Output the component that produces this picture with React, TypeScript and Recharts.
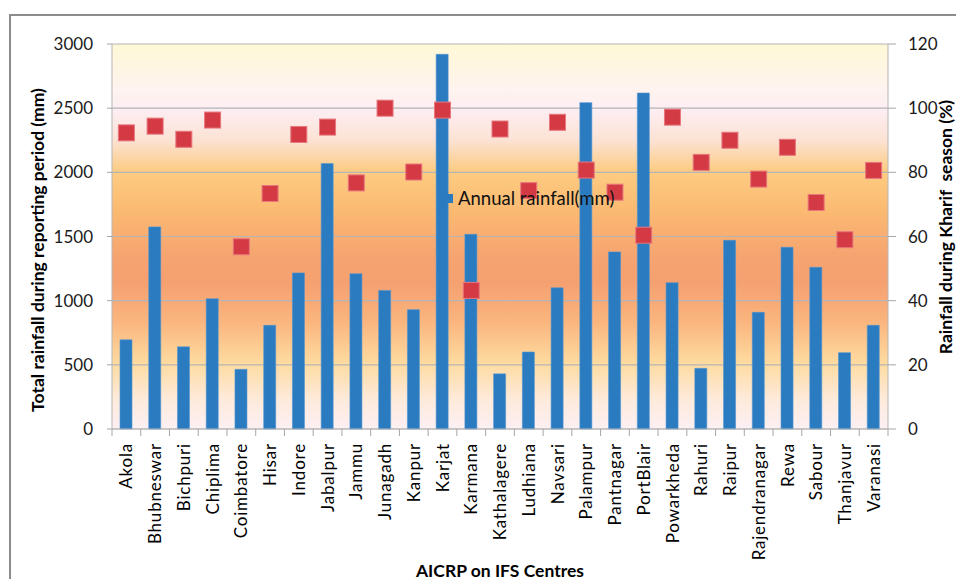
import {
  ComposedChart,
  Bar,
  Scatter,
  XAxis,
  YAxis,
  CartesianGrid,
} from 'recharts';

const CENTRES = [
  'Akola', 'Bhubneswar', 'Bichpuri', 'Chiplima', 'Coimbatore', 'Hisar', 'Indore',
  'Jabalpur', 'Jammu', 'Junagadh', 'Kanpur', 'Karjat', 'Karmana', 'Kathalagere',
  'Ludhiana', 'Navsari', 'Palampur', 'Pantnagar', 'PortBlair', 'Powarkheda',
  'Rahuri', 'Raipur', 'Rajendranagar', 'Rewa', 'Sabour', 'Thanjavur', 'Varanasi',
];

// annual rainfall, mm (left axis)
const ANNUAL_RAINFALL = [
  695, 1575, 640, 1015, 465, 808, 1216, 2068, 1210, 1080, 930, 2920, 1517, 430,
  600, 1100, 2543, 1380, 2618, 1140, 473, 1470, 909, 1416, 1260, 595, 808,
];

// share of rainfall in kharif season, % (right axis)
const KHARIF_SHARE = [
  92.3, 94.4, 90.3, 96.3, 56.8, 73.4, 91.8, 94.1, 76.7, 100, 80.1, 99.4, 43.2, 93.5,
  74.3, 95.6, 80.7, 73.8, 60.4, 97.2, 83.1, 90, 77.9, 87.8, 70.6, 59, 80.6,
];

const LEFT_TICKS = [0, 500, 1000, 1500, 2000, 2500, 3000];
const RIGHT_TICKS = [0, 20, 40, 60, 80, 100, 120];

const data = CENTRES.map((name, i) => ({
  name,
  annual: ANNUAL_RAINFALL[i],
  kharif: KHARIF_SHARE[i],
}));

const FONT = 'Lato, "Liberation Sans", sans-serif';
const W = 956;
const H = 579;
const PLOT_LEFT = 112;
const PLOT_RIGHT = 888;
const BAND = (PLOT_RIGHT - PLOT_LEFT) / CENTRES.length;

const CentreTick = (props: any) => {
  const { x, y, payload, index } = props;
  const axisY = y - 14;
  return (
    <g>
      <line x1={x - BAND / 2} x2={x - BAND / 2} y1={axisY} y2={axisY + 7} stroke="#A6A6A6" />
      {index === CENTRES.length - 1 && (
        <line x1={x + BAND / 2} x2={x + BAND / 2} y1={axisY} y2={axisY + 7} stroke="#A6A6A6" />
      )}
      <text
        x={x}
        y={y}
        dy="0.36em"
        textAnchor="end"
        transform={`rotate(-90, ${x}, ${y})`}
        fill="#000"
        fontSize={17}
        letterSpacing={0.8}
        fontFamily={FONT}
      >
        {payload.value}
      </text>
    </g>
  );
};

const Square = (p: any) => (
  <rect
    x={p.cx - 8}
    y={p.cy - 8}
    width={16}
    height={16}
    fill="#D33A44"
    stroke="#E8777E"
    strokeWidth={1}
  />
);

const titleStyle = {
  position: 'absolute' as const,
  whiteSpace: 'pre' as const,
  fontWeight: 'bold',
  fontSize: 17.5,
};

export default function App() {
  return (
    <div
      style={{
        position: 'absolute',
        left: 0,
        top: 0,
        width: W,
        height: H,
        overflow: 'hidden',
        background: '#fff',
        fontFamily: FONT,
      }}
    >
      <div
        style={{
          position: 'absolute',
          left: 9,
          top: 14,
          width: W,
          height: H,
          borderLeft: '2px solid #8C8C8C',
          borderTop: '2px solid #8C8C8C',
        }}
      />
      <ComposedChart
        width={W}
        height={H}
        data={data}
        margin={{ top: 44, right: 0, bottom: 0, left: 0 }}
        barCategoryGap={0}
      >
        <defs>
          <linearGradient id="plotBg" x1="0" y1="0" x2="0" y2="1">
            <stop offset="0" stopColor="#FFF8D6" />
            <stop offset="0.12" stopColor="#FEF3EF" />
            <stop offset="0.17" stopColor="#FDEEF3" />
            <stop offset="0.25" stopColor="#FCE2D4" />
            <stop offset="0.33" stopColor="#FDCC82" />
            <stop offset="0.43" stopColor="#FBBA72" />
            <stop offset="0.55" stopColor="#F6A470" />
            <stop offset="0.62" stopColor="#F5A070" />
            <stop offset="0.72" stopColor="#FAB57E" />
            <stop offset="0.83" stopColor="#FEDBA0" />
            <stop offset="0.92" stopColor="#FEEADA" />
            <stop offset="1" stopColor="#FCF0F4" />
          </linearGradient>
        </defs>
        <CartesianGrid
          yAxisId="left"
          vertical={false}
          stroke="#B5B5B5"
          strokeWidth={1.2}
          fill="url(#plotBg)"
          fillOpacity={1}
        />
        <XAxis
          dataKey="name"
          interval={0}
          height={150}
          tickLine={false}
          tickSize={7}
          tickMargin={7}
          axisLine={{ stroke: '#B5B5B5' }}
          tick={<CentreTick />}
        />
        <YAxis
          yAxisId="left"
          width={112}
          domain={[0, 3000]}
          ticks={LEFT_TICKS}
          interval={0}
          tickSize={5}
          tickMargin={14}
          tickLine={{ stroke: '#A6A6A6' }}
          axisLine={{ stroke: '#B5B5B5' }}
          tick={{ fill: '#1a1a1a', fontSize: 17, fontFamily: FONT }}
        />
        <YAxis
          yAxisId="right"
          orientation="right"
          width={68}
          domain={[0, 120]}
          ticks={RIGHT_TICKS}
          interval={0}
          tickSize={8}
          tickMargin={12}
          tickLine={{ stroke: '#A6A6A6' }}
          axisLine={{ stroke: '#B5B5B5' }}
          tick={{ fill: '#1a1a1a', fontSize: 17, fontFamily: FONT }}
        />
        <Bar
          yAxisId="left"
          dataKey="annual"
          name="Annual rainfall(mm)"
          barSize={12}
          fill="#2B7BC1"
          stroke="#4F93D2"
          strokeWidth={0.6}
          isAnimationActive={false}
        />
        <Scatter
          yAxisId="right"
          dataKey="kharif"
          shape={<Square />}
          legendType="none"
          isAnimationActive={false}
        />
      </ComposedChart>
      {/* legend: only the bar series is listed */}
      <div
        style={{
          position: 'absolute',
          left: 446,
          top: 187,
          display: 'flex',
          alignItems: 'center',
          fontSize: 18.5,
          color: '#111',
        }}
      >
        <span style={{ display: 'inline-block', width: 7, height: 9, background: '#2B7BC1', marginRight: 5 }} />
        <span>Annual rainfall(mm)</span>
      </div>
      <div style={{ ...titleStyle, left: 37, top: 250, transform: 'translate(-50%, -50%) rotate(-90deg)' }}>
        Total rainfall during reporting period (mm)
      </div>
      <div style={{ ...titleStyle, left: 945, top: 227, transform: 'translate(-50%, -50%) rotate(-90deg)' }}>
        Rainfall during Kharif  season (%)
      </div>
      <div style={{ ...titleStyle, left: 500, top: 570, transform: 'translate(-50%, -50%)' }}>
        AICRP on IFS Centres
      </div>
    </div>
  );
}
